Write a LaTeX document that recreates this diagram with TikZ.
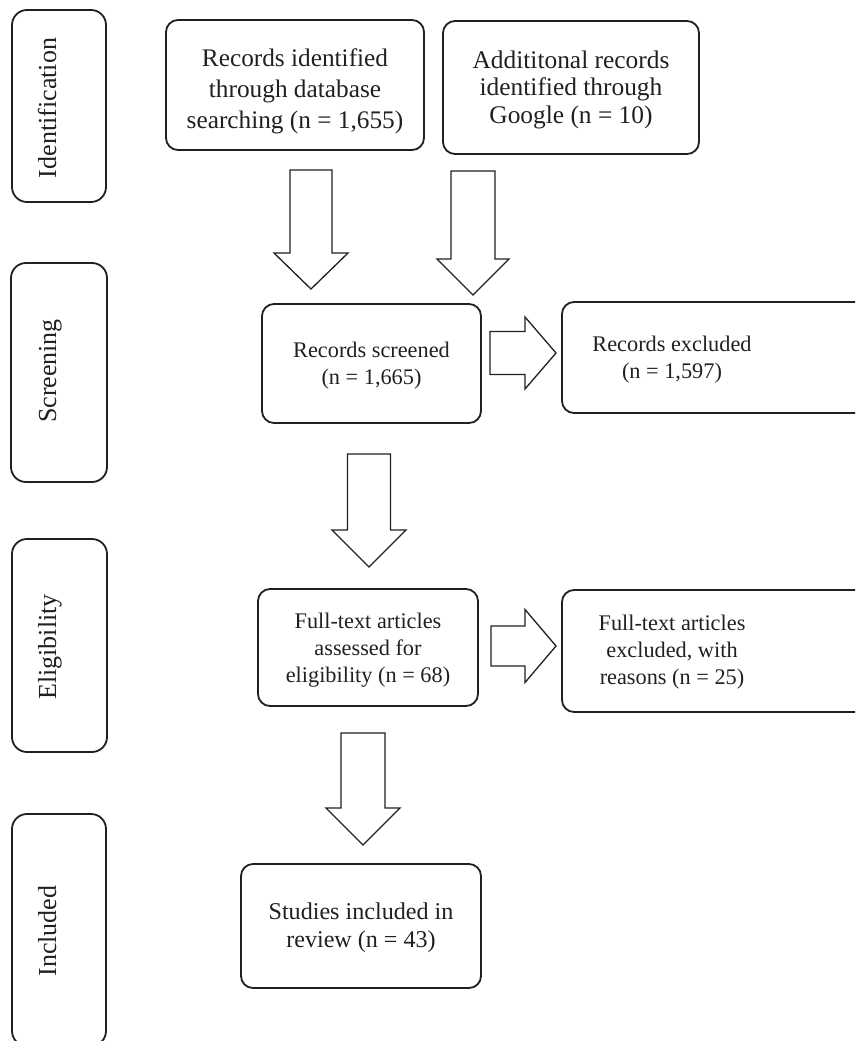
\documentclass[tikz,border=0pt]{standalone}
\usepackage{fontspec}
\setmainfont{Liberation Serif}
\definecolor{ink}{HTML}{231F20}
\newcommand\dbfs{\fontsize{25.3}{31}\selectfont}
\newcommand\ggfs{\fontsize{25.4}{27.5}\selectfont}
\newcommand\midfs{\fontsize{22.3}{27}\selectfont}
\newcommand\incfs{\fontsize{24.1}{28}\selectfont}
\newcommand\stagefs{\fontsize{26}{31}\selectfont}
% down block arrow: cx, top, headstart, tip, shaft half width, head half width
\newcommand\downblock[6]{%
  \draw[barrow] (#1-#5,#2) -- (#1+#5,#2) -- (#1+#5,#3) -- (#1+#6,#3) -- (#1,#4)
    -- (#1-#6,#3) -- (#1-#5,#3) -- cycle;}
% right block arrow: cy, left, headstart, tip, shaft half height, head half height
\newcommand\rightblock[6]{%
  \draw[barrow] (#2,#1-#5) -- (#3,#1-#5) -- (#3,#1-#6) -- (#4,#1) -- (#3,#1+#6)
    -- (#3,#1+#5) -- (#2,#1+#5) -- cycle;}
\begin{document}
\begin{tikzpicture}[x=1pt,y=-1pt,
  stage/.style={draw=ink, line width=1.8pt, rounded corners=15pt, inner sep=0pt},
  box/.style={draw=ink, line width=1.8pt, rounded corners=12pt, inner sep=0pt},
  btext/.style={align=center, text=ink, inner sep=0pt},
  barrow/.style={draw=ink, line width=1.3pt, fill=white, line join=miter},
  lbl/.style={rotate=90, anchor=base, font=\stagefs, text=ink, inner sep=0pt}]
\path[use as bounding box] (0,0) rectangle (855,1041);
\clip (0,0) rectangle (855,1041);

% stage boxes
\node[stage, minimum width=94pt, minimum height=192pt] (s1) at (59,106) {};
\node[stage, minimum width=96pt, minimum height=219pt] (s2) at (59,372.5) {};
\node[stage, minimum width=95pt, minimum height=213pt] (s3) at (59.5,645.5) {};
\node[stage, minimum width=94pt, minimum height=232pt] (s4) at (59,930) {};
\node[lbl] (l1) at (56,108) {Identification};
\node[lbl] (l2) at (56,371) {Screening};
\node[lbl] (l3) at (56,647) {Eligibility};
\node[lbl] (l4) at (56,931) {Included};

% content boxes
\node[box, minimum width=258pt, minimum height=130pt] (db) at (295,85) {};
\node[btext, font=\dbfs] (dbt) at (295,91)
  {Records identified\\through database\\searching (n = 1,655)};
\node[box, minimum width=256pt, minimum height=133pt] (gg) at (571,87.5) {};
\node[btext, font=\ggfs] (ggt) at (571,89.5)
  {Addititonal records\\identified through\\Google (n = 10)};
\node[box, minimum width=219pt, minimum height=119pt] (scr) at (371.5,363.5) {};
\node[btext, font=\midfs] (scrt) at (371.5,366)
  {Records screened\\(n = 1,665)};
\node[box, minimum width=320pt, minimum height=111pt] (ex1) at (722,357.5) {};
\node[btext, font=\midfs] (ex1t) at (672,360) {Records excluded\\(n = 1,597)};
\node[box, minimum width=220pt, minimum height=117pt] (el) at (368,647.5) {};
\node[btext, font=\midfs] (elt) at (368,650)
  {Full-text articles\\assessed for\\eligibility (n = 68)};
\node[box, minimum width=320pt, minimum height=122pt] (ex2) at (722,651) {};
\node[btext, font=\midfs] (ex2t) at (672,652) {Full-text articles\\excluded, with\\reasons (n = 25)};
\node[box, minimum width=240pt, minimum height=124pt] (inc) at (361,926) {};
\node[btext, font=\incfs] (inct) at (361,928)
  {Studies included in\\review (n = 43)};

% block arrows
\downblock{311}{170}{253}{289}{21}{37}
\downblock{473}{171}{259}{295}{22}{36}
\downblock{369}{454}{530}{567}{21.5}{37}
\downblock{363}{733}{808}{845}{22}{37}
\rightblock{353}{490}{525}{556}{21.5}{36}
\rightblock{646}{491}{525}{556}{20}{36.5}
\end{tikzpicture}
\end{document}
